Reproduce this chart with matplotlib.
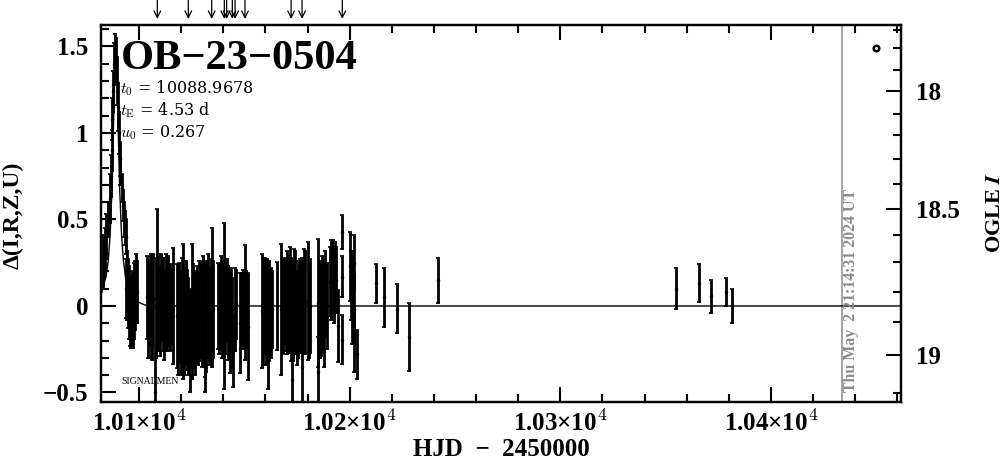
import matplotlib
matplotlib.use('Agg')
import matplotlib.pyplot as plt
from matplotlib.ticker import MultipleLocator, FixedLocator, NullFormatter
from matplotlib.transforms import blended_transform_factory

plt.rcParams['font.family'] = ['Liberation Serif', 'DejaVu Serif']
plt.rcParams['mathtext.fontset'] = 'cm'

# OGLE photometry, HJD - 2450000
hjd = [
    10083.0, 10083.5, 10084.0, 10084.5, 10085.3, 10086.2, 10086.6, 10087.0, 10087.4, 10087.8,
    10088.2, 10088.6, 10089.0, 10089.4, 10089.8, 10090.3, 10090.8, 10091.2, 10091.7, 10092.2,
    10092.7, 10093.2, 10093.6,
    10093.9, 10094.4, 10094.9, 10095.3, 10095.8, 10096.2, 10096.7, 10097.1, 10097.6, 10098.1, 10098.5, 10099.0,
    10103.8, 10104.4, 10105.0, 10105.6, 10106.2, 10106.8, 10107.6, 10108.0, 10108.5, 10109.1,
    10109.8, 10110.5, 10111.2, 10111.9, 10112.6, 10113.3, 10114.0, 10114.7, 10115.4, 10116.1,
    10118.0, 10118.6, 10119.2, 10119.9, 10120.5, 10120.9, 10121.5, 10122.1, 10122.8, 10123.4,
    10124.2, 10125.1, 10125.8, 10126.6, 10127.3, 10128.0, 10128.7,
    10129.4, 10130.0, 10130.6, 10131.2, 10131.4, 10132.0, 10132.7, 10133.3, 10134.0, 10134.6, 10135.1,
    10137.6, 10138.2, 10138.8, 10139.4, 10140.3, 10141.0, 10141.7, 10142.3, 10143.0, 10143.6,
    10144.2, 10144.8, 10145.4, 10146.0,
    10148.0, 10148.6, 10149.2, 10149.8, 10150.3, 10150.9, 10151.5,
    10158.4, 10159.0, 10159.6, 10160.2, 10160.9, 10161.2, 10161.9, 10162.5, 10163.1,
    10165.5, 10167.4, 10168.2, 10168.9, 10169.6, 10170.3, 10171.0, 10171.7, 10172.3, 10172.6,
    10173.0, 10173.6, 10174.2, 10174.9, 10175.6, 10176.4,
    10177.4, 10177.6, 10178.2, 10178.9, 10180.0, 10180.5, 10181.2,
    10185.0, 10185.2, 10185.7, 10186.4, 10187.1, 10187.8, 10188.5, 10189.2,
    10190.7, 10191.3, 10191.9, 10192.5, 10193.1, 10193.7, 10194.5,
    10196.4, 10196.4, 10196.4,
    10200.2, 10200.6, 10201.1, 10201.5, 10201.9, 10202.1, 10202.2, 10203.5,
    10212.5, 10216.3, 10222.5, 10228.2, 10241.9,
    10354.8, 10365.7, 10371.5, 10378.6, 10381.5,
]
delta = [
    0.26, 0.28, 0.33, 0.40, 0.50, 0.62, 0.75, 0.90, 1.08, 1.24,
    1.40, 1.48, 1.42, 1.30, 1.15, 1.00, 0.85, 0.78, 0.68, 0.58,
    0.50, 0.45, 0.40,
    0.10, 0.12, 0.07, 0.02, -0.03, -0.04, -0.02, -0.03, 0.03, 0.06, 0.10, 0.08,
    0.05, -0.02, 0.03, 0.00, -0.04, 0.04, -0.50, -0.01, 0.30, 0.02,
    -0.03, 0.05, 0.01, -0.05, 0.02, -0.02, 0.03, -0.01, 0.00, 0.00,
    -0.06, -0.08, -0.04, -0.10, -0.05, -0.03, -0.09, -0.04, -0.08, -0.12,
    -0.20, -0.03, -0.06, -0.10, -0.05, -0.07, -0.03,
    -0.02, -0.05, -0.02, -0.08, -0.17, -0.06, 0.00, -0.06, -0.03, 0.05, -0.02,
    0.00, -0.02, 0.02, -0.03, 0.00, -0.02, 0.03, -0.04, -0.09, -0.02,
    -0.10, -0.26, -0.02, 0.01,
    -0.10, -0.03, -0.01, -0.02, 0.02, -0.02, -0.12,
    -0.03, -0.03, 0.00, -0.04, -0.03, -0.12, -0.03, -0.04, -0.02,
    0.00, -0.02, -0.01, 0.03, 0.00, 0.02, 0.01, 0.04, -0.02, -0.43,
    -0.03, 0.05, 0.02, -0.07, -0.02, 0.00,
    0.02, -0.35, 0.03, 0.02, 0.03, -0.03, 0.00,
    0.02, -0.38, -0.02, -0.02, 0.01, -0.05, 0.07, 0.00,
    0.14, 0.15, 0.17, 0.12, 0.17, 0.15, -0.115,
    0.43, 0.17, -0.195,
    0.23, 0.12, 0.03, 0.10, -0.02, 0.25, -0.20, -0.28,
    0.13, 0.05, -0.015, -0.18, 0.15,
    0.10, 0.135, 0.055, 0.08, 0.00,
]
delta_err = [
    0.15, 0.12, 0.12, 0.13, 0.10, 0.14, 0.12, 0.12, 0.12, 0.12,
    0.12, 0.09, 0.13, 0.14, 0.14, 0.12, 0.10, 0.08, 0.08, 0.09,
    0.10, 0.10, 0.10,
    0.17, 0.20, 0.20, 0.21, 0.20, 0.20, 0.22, 0.21, 0.22, 0.20, 0.20, 0.18,
    0.24, 0.28, 0.26, 0.30, 0.27, 0.26, 0.27, 0.29, 0.26, 0.28,
    0.26, 0.25, 0.27, 0.26, 0.28, 0.24, 0.26, 0.25, 0.22, 0.335,
    0.30, 0.32, 0.29, 0.30, 0.33, 0.39, 0.31, 0.30, 0.29, 0.28,
    0.30, 0.39, 0.30, 0.30, 0.28, 0.27, 0.29,
    0.28, 0.30, 0.31, 0.33, 0.33, 0.32, 0.30, 0.28, 0.30, 0.40, 0.28,
    0.25, 0.26, 0.27, 0.27, 0.48, 0.26, 0.24, 0.27, 0.30, 0.24,
    0.26, 0.21, 0.24, 0.20,
    0.29, 0.22, 0.22, 0.23, 0.33, 0.22, 0.31,
    0.33, 0.31, 0.28, 0.30, 0.30, 0.36, 0.29, 0.26, 0.22,
    0.255, 0.38, 0.27, 0.25, 0.26, 0.30, 0.28, 0.30, 0.30, 0.20,
    0.29, 0.28, 0.30, 0.27, 0.28, 0.27,
    0.26, 0.22, 0.30, 0.30, 0.34, 0.27, 0.27,
    0.37, 0.20, 0.28, 0.27, 0.28, 0.30, 0.25, 0.25,
    0.20, 0.23, 0.21, 0.22, 0.20, 0.19, 0.21,
    0.098, 0.12, 0.14,
    0.20, 0.20, 0.25, 0.22, 0.20, 0.16, 0.18, 0.14,
    0.11, 0.17, 0.14, 0.195, 0.13,
    0.12, 0.11, 0.095, 0.08, 0.10,
]

# model curve
model_hjd = [10082, 10084.4, 10085.4, 10086.3, 10087.2, 10088.1, 10088.5, 10088.97, 10089.4, 10089.9,
             10090.8, 10091.7, 10092.6, 10093.5, 10095.8, 10098, 10102.6, 10107, 10120, 10462]
model_delta = [0.065, 0.173, 0.262, 0.414, 0.684, 1.155, 1.42, 1.55, 1.42, 1.155,
               0.684, 0.414, 0.262, 0.173, 0.07, 0.032, 0.006, 0.001, 0, 0]

arrow_hjd = [10108.7, 10123.4, 10134.5, 10140.5, 10141.6, 10144.3, 10145.6, 10150.3, 10172.2, 10177.4, 10196.5]

xtick_vals = [10100, 10200, 10300, 10400]
xtick_labels = ['1.01×10$^{\\mathbf{4}}$', '1.02×10$^{\\mathbf{4}}$', '1.03×10$^{\\mathbf{4}}$', '1.04×10$^{\\mathbf{4}}$']
ytick_vals = [-0.5, 0, 0.5, 1, 1.5]
ytick_labels = ['−0.5', '0', '0.5', '1', '1.5']

# I magnitude against delta, not a straight scale
mag_major = [18, 18.5, 19]
mag_major_delta = [1.240, 0.562, -0.286]
mag_minor_delta = [1.597, 1.493, 1.366, 1.112, 0.986, 0.847, 0.707, 0.412, 0.256, 0.083, -0.091, -0.501]

now_hjd = 10433.5
moon_hjd = 10449.8
moon_delta = 1.49

fig = plt.figure(figsize=(10.04, 4.59), dpi=100)
ax = fig.add_axes([101/1004, 1-402/459, 800/1004, 377/459])
ax.set_xlim(10081.96, 10461.7)
ax.set_ylim(-0.555, 1.624)

ax.plot(model_hjd, model_delta, color='black', lw=1.0, zorder=2)
ax.errorbar(hjd, delta, yerr=delta_err, fmt='.', color='black', ms=3, elinewidth=2.0,
            capsize=1.5, capthick=1.2, zorder=3)
ax.axvline(now_hjd, color='#8c8c8c', lw=1.1, zorder=1)
ax.plot([moon_hjd], [moon_delta], 'o', mfc='white', mec='black', mew=1.8, ms=4)

# ticks on all four sides, pointing in
ax.set_xticks(xtick_vals)
ax.set_xticklabels(xtick_labels)
ax.set_yticks(ytick_vals)
ax.set_yticklabels(ytick_labels)
ax.xaxis.set_minor_locator(MultipleLocator(20))
ax.yaxis.set_minor_locator(MultipleLocator(0.1))
ax.tick_params(which='major', direction='in', length=11, width=1.5, top=True, labelsize=18, pad=6)
ax.tick_params(axis='y', which='major', pad=9)
ax.tick_params(which='minor', direction='in', length=5.5, width=1.5, top=True)
for lab in ax.get_xticklabels() + ax.get_yticklabels():
    lab.set_fontweight('bold')
for s in ax.spines.values():
    s.set_linewidth(1.6)

ax2 = ax.twinx()
ax2.set_ylim(ax.get_ylim())
ax2.yaxis.set_major_locator(FixedLocator(mag_major_delta))
ax2.set_yticklabels([f'{m:g}' for m in mag_major], fontweight='bold')
ax2.yaxis.set_minor_locator(FixedLocator(mag_minor_delta))
ax2.yaxis.set_minor_formatter(NullFormatter())
ax2.tick_params(which='major', direction='in', length=11, width=1.5, labelsize=18, pad=11)
ax2.tick_params(which='minor', direction='in', length=5.5, width=1.5)
for s in ax2.spines.values():
    s.set_linewidth(1.6)

# event markers above the frame
trans = blended_transform_factory(ax.transData, ax.transAxes)
for t in arrow_hjd:
    ax.annotate('', xy=(t, 1.016), xytext=(t, 1.068), xycoords=trans, textcoords=trans,
                annotation_clip=False, arrowprops=dict(arrowstyle='->', lw=0.9, color='black',
                                                       shrinkA=0, shrinkB=0, mutation_scale=12))

fig.text(121/1004, 1-69/459, 'OB−23−0504', fontsize=30.5, fontweight='bold', ha='left', va='baseline')
fig.text(120/1004, 1-93/459, '$t_0$ = 10088.9678', fontsize=11.5, family='DejaVu Serif', ha='left', va='baseline')
fig.text(120/1004, 1-115/459, '$t_{\\rm E}$ = 4.53 d', fontsize=11.5, family='DejaVu Serif', ha='left', va='baseline')
fig.text(120/1004, 1-137/459, '$u_0$ = 0.267', fontsize=11.5, family='DejaVu Serif', ha='left', va='baseline')
fig.text(121/1004, 1-384/459, 'SIGNALMEN', fontsize=7, ha='left', va='baseline')
fig.text(851/1004, 1-290/459, 'Thu May  2 21:14:31 2024 UT', fontsize=11.4, fontweight='bold', color='#8c8c8c',
         rotation=90, ha='center', va='center')
fig.text(501/1004, 1-456/459, 'HJD  −  2450000', fontsize=18, fontweight='bold', ha='center', va='baseline')
fig.text(13/1004, 1-215/459, 'Δ(I,R,Z,U)', fontsize=17, fontweight='bold', rotation=90, ha='center', va='center')
fig.text(995/1004, 1-213/459, 'OGLE $\\mathbfit{I}$', fontsize=16, fontweight='bold', rotation=90, ha='center', va='center')

fig.savefig('out.png', dpi=100)
